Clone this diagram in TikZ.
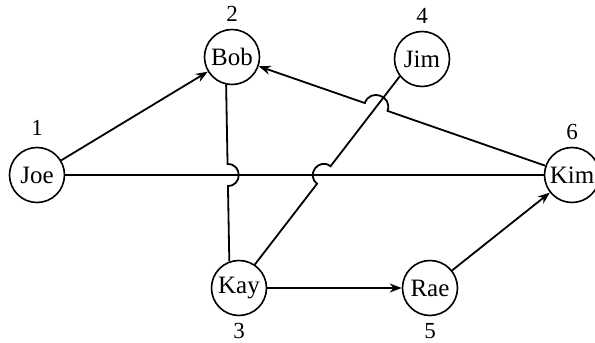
\documentclass[tikz,border=0pt]{standalone}
\usepackage{fontspec}
\setmainfont{Liberation Serif}
\usetikzlibrary{arrows.meta,calc}
\begin{document}
\begin{tikzpicture}[
        x=0.5pt, y=0.5pt,
        person/.style={draw, circle, minimum size=27.5pt, inner sep=0pt, line width=0.8pt, font=\fontsize{12.5}{14}\selectfont},
        tag/.style={font=\fontsize{11.5}{13}\selectfont},
        link/.style={line width=0.9pt},
        arrow/.style={link, -{Stealth[length=6pt,width=4.5pt]}},
        hopleft/.style={bend left=90, looseness=1.7},
        hopright/.style={bend right=90, looseness=1.7}
        ]
        \useasboundingbox (0,0) rectangle (595,343);

        \node[person, label={[tag, label distance=2pt]above:1}] (joe) at (37,168) {Joe};
        \node[person, label={[tag]above:2}] (bob) at (232,286) {Bob};
        \node[person, label={[tag]above:4}] (jim) at (422,284) {Jim};
        \node[person, label={[tag]above:6}] (kim) at (572,168) {Kim};
        \node[person, label={[tag]below:3}] (kay) at (239,55) {Kay};
        \node[person, label={[tag]below:5}] (rae) at (430,55) {Rae};

        % crossing points
        \coordinate (cross1) at (intersection of bob.258--kay.110 and joe--kim);
        \coordinate (cross2) at (intersection of jim.218--kay.56 and joe--kim);
        \coordinate (cross3) at (intersection of kim--bob and jim.218--kay.56);

        \draw[arrow] (joe) -- (bob);
        \draw[link] (joe) -- (kim);
        \draw[link] (bob.258) -- ($(cross1)!5.5pt!(bob.258)$) to[hopleft] ($(cross1)!5.5pt!(kay.110)$) -- (kay.110);
        \draw[link] (kay.56) -- ($(cross2)!5.5pt!(kay.56)$) to[hopleft] ($(cross2)!5.5pt!(jim.218)$) -- (jim.218);
        \draw[arrow] (kim) -- ($(cross3)!6pt!(kim)$) to[hopright] ($(cross3)!6pt!(bob)$) -- (bob);
        \draw[arrow] (kay) -- (rae);
        \draw[arrow] (rae) -- (kim);
    \end{tikzpicture}
\end{document}
